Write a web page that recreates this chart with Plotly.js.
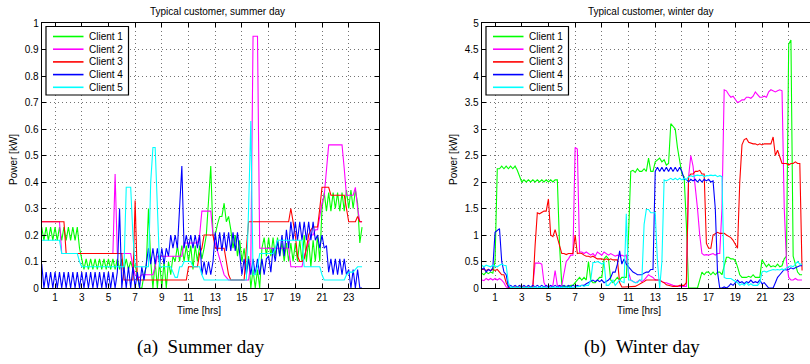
<!DOCTYPE html>
<html><head><meta charset="utf-8">
<script src="https://cdn.plot.ly/plotly-3.0.1.min.js"></script>
<style>html,body{margin:0;padding:0;overflow:hidden;background:#fff}</style>
</head><body><div id="chart" style="width:820px;height:364px"></div>
<script>
const clients = ["Client 1", "Client 2", "Client 3", "Client 4", "Client 5"];
const colors = ["#00ff00", "#ff00ff", "#ff0000", "#0000ff", "#00ffff"];
const xTicks = [1, 3, 5, 7, 9, 11, 13, 15, 17, 19, 21, 23];
const summerYTicks = [0, 0.1, 0.2, 0.3, 0.4, 0.5, 0.6, 0.7, 0.8, 0.9, 1];
const winterYTicks = [0, 0.5, 1, 1.5, 2, 2.5, 3, 3.5, 4, 4.5, 5];
const titles = ["Typical customer, summer day", "Typical customer, winter day"];
const captions = ["(a)\u00a0\u00a0Summer day", "(b)\u00a0\u00a0Winter day"];

// 10-minute samples, one row per hour, final value at 24:00
const summer1 = [
.23,.18,.23,.18,.23,.18, .23,.18,.23,.18,.23,.18, .23,.18,.23,.18,.23,.15, .11,.07,.11,.07,.11,.07,
.11,.07,.11,.07,.11,.07, .11,.07,.11,.07,.11,.07, .11,.07,.11,.07,.1,.07, .09,.05,0,0,.05,.08,
.3,.1,0,.1,0,.1, 0,.1,0,.1,.05,.12, .1,.16,.1,.16,.1,.16, .1,.16,.07,.16,.1,.16,
.11,.15,.2,.33,.46,.2, .2,.24,.27,.27,.32,.25, .27,.22,.15,.2,.12,.18, .1,.15,.07,.12,0,.07,
0,.07,0,.15,.19,.12, .19,.12,.19,.12,.19,.12, .17,.1,.17,.1,.17,.1, .17,.1,.18,.1,.2,.1,
.18,.08,.18,.1,.2,.1, .3,.36,.29,.36,.29,.36, .3,.36,.29,.36,.29,.37, .3,.37,.3,.37,.32,.17, .23];
const summer2 = [
.25,.25,.25,.25,.25,.25, .25,.25,.25,.13,.13,.13, .13,.13,.13,.13,.13,.13, .13,.13,.13,.13,.13,.13,
.13,.13,.13,.13,.13,.13, .13,.13,.13,.43,.13,.13, .13,.13,.13,.13,.13,.08, .05,.04,.04,.05,.05,.05,
.05,.05,.05,.08,.12,.12, .12,.12,.12,.12,.12,.12, .12,.12,.12,.12,.17,.17, .17,.17,.17,.17,.17,.2,
.29,.29,.29,.29,.29,.2, .17,.13,.1,.07,.05,.04, .03,.03,.03,.03,.03,.03, .03,.03,.03,.03,.1,.95,
.95,.95,.15,.15,.15,.15, .15,.15,.15,.15,.15,.15, .15,.15,.15,.15,.08,.08, .08,.08,.08,.08,.12,.15,
.18,.2,.2,.22,.22,.28, .32,.35,.45,.54,.54,.54, .54,.54,.54,.54,.45,.35, .35,.35,.35,.38,.3,.25, .25];
const summer3 = [
.25,.25,.25,.25,.25,.25, .25,.25,.25,.25,.25,.13, .13,.13,.13,.13,.13,.13, .13,.13,.13,.13,.13,.13,
.13,.13,.13,.13,.13,.13, .13,.13,.13,.13,.13,.13, .13,.03,.03,.03,.03,.03, .33,.03,.03,.03,.03,.03,
.03,.03,.03,.03,.03,.03, .03,.03,.03,.03,.03,.03, .03,.03,.03,.03,.03,.03, .08,.08,.08,.08,.08,.13,
.15,.2,.2,.2,.2,.2, .15,.15,.15,.15,.15,.1, .05,.03,.03,.03,.03,.03, .03,.03,.15,.25,.25,.25,
.25,.25,.25,.25,.25,.25, .25,.25,.25,.25,.25,.25, .25,.25,.25,.25,.3,.25, .2,.12,.1,.1,.11,.15,
.2,.22,.23,.23,.23,.3, .38,.38,.38,.38,.35,.35, .35,.35,.35,.35,.35,.3, .25,.25,.25,.25,.27,.25, .25];
const summer4 = [
.09,0,.06,0,.06,0, .06,0,.06,0,.06,0, .06,0,.06,0,.06,0, .06,0,.06,0,.06,0,
.06,0,.06,0,.06,0, .06,0,.06,0,.06,.3, 0,.08,0,.08,0,.08, 0,.06,0,.08,.03,.1,
.15,.09,.15,.09,.15,.09, .15,.09,.15,.12,.2,.15, .2,.15,.3,.46,.15,.2, .15,.2,.15,.2,.15,.2,
.05,.1,.05,.1,.05,.1, .21,.14,.21,.14,.21,.14, .21,.14,.21,.14,.21,.14, .05,.11,.05,.11,.05,.11,
.05,.11,.05,.11,.05,.11, .12,.06,.15,.1,.18,.12, .2,.12,.22,.15,.25,.18, .25,.18,.25,.18,.25,.18,
.25,.18,.25,.18,.2,.15, .2,.15,.16,.06,.11,.05, .11,.05,.11,.05,.11,.05, .07,0,.07,0,.07,0, 0];
const summer5 = [
.18,.18,.18,.18,.18,.18, .18,.18,.18,.13,.13,.13, .13,.13,.13,.13,.13,.1, .08,.08,.08,.08,.08,.08,
.08,.08,.08,.08,.08,.08, .08,.08,.08,.08,.08,.08, .08,.08,.38,.38,.38,.2, .08,.08,.08,.08,.08,.08,
.08,.4,.53,.53,.3,.08, .08,.08,.08,.08,.08,.06, .04,.04,.08,.08,.1,.1, .1,.1,.08,.08,.08,.08,
.05,.03,.03,.03,.03,.03, .03,.03,.03,.03,.03,.03, .03,.03,.03,.03,.03,.03, .03,.03,.03,.3,.63,.05,
.05,.08,.13,.13,.13,.13, .13,.13,.13,.15,.18,.18, .18,.18,.18,.18,.18,.18, .18,.18,.18,.18,.08,.08,
.08,.08,.08,.08,.08,.08, .05,.03,.03,.03,.03,.03, .03,.03,.03,.03,.03,.05, .06,.06,.06,.07,.08,.08, .08];

const winter1 = [
.28,.25,.3,.27,.3,.28, .5,2.25,2.25,2.3,2.25,2.3, 2.25,2.3,2.25,2.3,2.22,2.1, 2.0,2.04,2.0,2.04,2.0,2.04,
2.0,2.04,2.0,2.04,2.0,2.04, 2.0,2.04,2.0,2.04,2.04,.8, .05,.03,.03,.03,.05,.05, .1,.15,.2,.15,.2,.15,
.5,.15,.1,.1,.15,.2, .2,.55,.6,.55,.15,.1, .15,.2,.15,.2,.2,.2, 1.0,2.2,2.22,2.18,2.25,2.2,
2.2,2.25,2.2,2.45,2.2,2.2, 2.38,2.42,2.45,2.38,2.42,2.32, 2.35,3.1,3.05,3.0,2.65,2.4, 2.15,2.1,1.2,0,0,0,
0,0,.15,.3,.25,.3, .3,.25,.3,.25,.3,.3, .25,.4,.58,.58,.55,.55, .52,.4,.25,.2,.2,.2,
.22,.2,.25,.2,.2,.2, .53,.45,.4,.45,.4,.42, .4,.45,.4,.42,.55,.6, 4.6,4.68,.6,.45,.3,.25, .25];
const winter2 = [
.15,.14,.18,.15,.18,.15, .18,.15,.18,.15,.1,.02, 0,0,0,0,0,0, 0,0,0,0,0,.05,
.47,.47,.47,.45,.1,.02, .02,.02,.05,.33,.05,.03, .05,.25,.5,.55,.62,.62, 2.65,2.62,.68,.68,.65,.68,
.65,.62,.65,.6,.68,.65, .62,.68,.65,.62,.65,.62, .6,.62,.6,.62,.6,.62, .3,.15,.12,.1,.12,.15,
.12,.15,.2,.25,.22,.2, .15,.15,.15,.12,.1,.1, .08,.06,.05,.04,.03,.03, .03,.03,.03,2.1,2.5,2.3,
1.95,1.5,1.0,.65,.62,.63, .62,.64,.65,.62,.65,.65, 1.5,3.74,3.72,3.65,3.6,3.62, 3.55,3.5,3.52,3.55,3.55,3.6,
3.6,3.58,3.62,3.7,3.65,3.6, 3.6,3.62,3.6,3.7,3.74,3.72, 3.7,3.72,3.74,3.72,1.5,.5, .2,.15,.15,.18,.15,.15, .15];
const winter3 = [
.35,.35,.33,.35,.33,.35, .33,.35,.3,.25,.25,.1, .02,0,.02,.02,.02,.02, .02,.02,.03,.02,.02,.02,
.8,1.42,1.4,1.42,1.45,1.45, 1.68,1.0,.97,1.1,.95,.8, .65,.65,.63,.65,.65,.65, 1.0,.65,.66,.65,.62,.6,
.6,.58,.6,.57,.55,.55, .55,.53,.55,.53,.55,.53, .53,.53,.1,.02,.02,.02, .02,.02,.02,.03,.05,.08,
.1,.12,.15,.15,.15,.15, .15,.15,.15,.12,.1,.06, .05,.03,.03,.03,.03,.05, .05,.05,.1,2.1,2.15,2.15,
2.2,2.2,2.22,2.15,2.15,.84, .75,.75,1.0,1.03,1.05,1.03, 1.03,1.03,1.0,.98,.95,.9, .82,.75,2.0,2.7,2.8,2.82,
2.75,2.73,2.72,2.72,2.7,2.72, 2.7,2.72,2.72,2.72,2.72,2.85, 2.5,2.6,2.45,2.35,2.35,2.35, 2.32,2.35,2.35,2.38,2.35,2.35, .33];
const winter4 = [
.35,.38,.3,.35,.32,.38, 1.05,1.08,1.12,.5,.3,.25, .02,.05,.02,.05,.02,.05, .02,.05,.02,.05,.02,.05,
.02,.05,.02,.05,.02,.05, .02,.05,.02,.05,.02,.05, .02,.05,.02,.05,.02,.05, .03,.05,.03,.05,.05,.08,
.1,.12,.15,.12,.15,.12, .15,.1,.12,.15,.2,.3, .3,.45,.7,.45,.55,.45, .4,.35,.3,.28,.25,.25,
.25,.28,.3,.3,.35,.35, 2.2,2.28,2.2,2.28,2.2,2.28, 2.2,2.28,2.2,2.28,2.2,2.28, 2.2,2.05,2.05,2.0,2.05,2.02,
2.05,2.0,2.05,2.0,2.05,2.02, 2.05,2.0,2.02,1.5,.3,0, 0,.02,0,.03,.08,.05, .1,.15,.1,.12,.08,.12,
.1,.15,.1,.12,.1,.15, .08,.1,.05,0,0,0, .1,.2,.25,.3,.35,.34, .35,.38,.36,.38,.4,.42, .42];
const winter5 = [
.43,.4,.43,.42,.4,.43, .42,.4,.43,.45,.43,.42, .1,0,.02,0,.02,0, .02,0,.02,0,.02,0,
.02,0,.02,0,.02,0, .02,0,.02,0,.02,0, .02,0,.02,0,.02,0, .02,.02,.03,.05,.03,.05,
.05,.15,.48,.48,.5,.48, .45,.48,.05,.05,.1,.15, .05,.1,.15,.12,.1,1.4, .15,.15,.12,.1,.1,.15,
.15,1.2,1.48,1.48,1.42,1.42, 1.42,.5,0,.5,2.04,2.02, 2.04,2.07,2.04,2.07,2.04,2.07, 2.04,2.07,2.04,2.1,2.12,2.1,
2.12,2.13,2.12,2.13,2.1,2.12, 2.12,2.13,2.12,2.13,2.1,2.12, 2.1,.2,.18,.18,.18,.15, .12,.1,.05,.08,.05,.1,
.05,.08,.05,.05,.05,.1, .3,.32,.3,.32,.34,.35, .34,.35,.34,.36,.34,.38, .4,.42,.4,.45,.5,.45, .45];

const time = Array.from({length: summer1.length}, (_, i) => i / 6);
const summerSeries = [summer1, summer2, summer3, summer4, summer5];
const winterSeries = [winter1, winter2, winter3, winter4, winter5];

const W = 820, H = 364;
const px = x => x / W, py = y => 1 - y / H;
const FONT = "Liberation Sans, Arial, sans-serif";

const traces = [];
summerSeries.forEach((s, k) => traces.push({x: time, y: s, type: "scatter", mode: "lines",
  name: clients[k], line: {color: colors[k], width: 1.1}, xaxis: "x", yaxis: "y", showlegend: false}));
winterSeries.forEach((s, k) => traces.push({x: time, y: s, type: "scatter", mode: "lines",
  name: clients[k], line: {color: colors[k], width: 1.1}, xaxis: "x2", yaxis: "y2", showlegend: false}));

const GRID = {showgrid: true, gridcolor: "rgba(0,0,0,0.55)", griddash: "1px,3px", gridwidth: 1};
function xax(dom) {
  return Object.assign({domain: dom, range: [0, 25.27], tickvals: xTicks, ticks: "inside", ticklen: 4,
    showline: true, linecolor: "#000", linewidth: 1, mirror: "ticks", tickcolor: "#000", zeroline: false,
    tickfont: {size: 10, color: "#000", family: FONT}, fixedrange: true}, GRID);
}
function yax(ticks, anchor) {
  return Object.assign({domain: [py(288), py(23)], range: [0, ticks[ticks.length - 1]], tickvals: ticks,
    anchor: anchor, ticks: "inside", ticklen: 4, showline: true, linecolor: "#000", linewidth: 1,
    mirror: "ticks", tickcolor: "#000", zeroline: false,
    tickfont: {size: 10, color: "#000", family: FONT}, fixedrange: true}, GRID);
}

const shapes = [], annotations = [];
[0, 440].forEach((off, p) => {
  shapes.push({type: "rect", xref: "paper", yref: "paper", x0: px(46 + off), x1: px(128.5 + off),
    y0: py(95), y1: py(26.5), line: {color: "#000", width: 1.2}, fillcolor: "#fff", layer: "above"});
  clients.forEach((c, k) => {
    const yy = 36.5 + k * 12.7;
    shapes.push({type: "line", xref: "paper", yref: "paper", x0: px(53 + off), x1: px(83.5 + off),
      y0: py(yy), y1: py(yy), line: {color: colors[k], width: 1.6}, layer: "above"});
    annotations.push({xref: "paper", yref: "paper", x: px(87 + off), y: py(yy), xanchor: "left",
      yanchor: "middle", showarrow: false, text: c, font: {size: 10, color: "#000", family: FONT}});
  });
  annotations.push({xref: "paper", yref: "paper", x: px(p === 0 ? 217.5 : 650.5), y: py(11.7),
    xanchor: "center", yanchor: "middle", showarrow: false, text: titles[p],
    font: {size: 10, color: "#000", family: FONT}});
  annotations.push({xref: "paper", yref: "paper", x: px(198.5 + off), y: py(310),
    xanchor: "center", yanchor: "middle", showarrow: false, text: "Time [hrs]",
    font: {size: 10, color: "#000", family: FONT}});
  annotations.push({xref: "paper", yref: "paper", x: px(13 + off), y: py(160),
    xanchor: "center", yanchor: "middle", showarrow: false, text: "Power [kW]", textangle: -90,
    font: {size: 10, color: "#000", family: FONT}});
  annotations.push({xref: "paper", yref: "paper", x: px(p === 0 ? 201 : 641.5), y: py(347),
    xanchor: "center", yanchor: "middle", showarrow: false, text: captions[p],
    font: {size: 19, color: "#000", family: "Liberation Serif, Times New Roman, serif"}});
});

const layout = {
  width: W, height: H, margin: {l: 0, r: 0, t: 0, b: 0},
  paper_bgcolor: "#fff", plot_bgcolor: "#fff", showlegend: false, hovermode: false,
  font: {family: FONT, size: 10, color: "#000"},
  xaxis: Object.assign(xax([px(41.7), px(379)]), {anchor: "y"}), yaxis: yax(summerYTicks, "x"),
  xaxis2: Object.assign(xax([px(481.7), px(819)]), {anchor: "y2"}), yaxis2: yax(winterYTicks, "x2"),
  shapes: shapes, annotations: annotations
};
Plotly.newPlot("chart", traces, layout, {displayModeBar: false, staticPlot: true});
</script></body></html>
